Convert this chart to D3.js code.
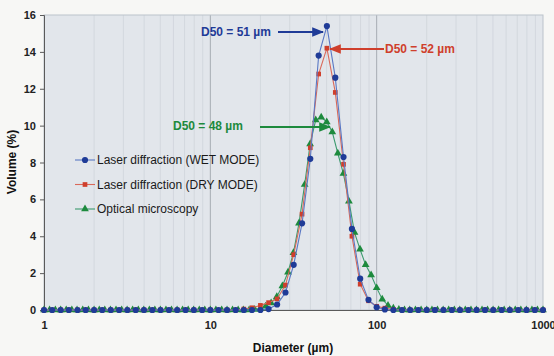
<!DOCTYPE html>
<html>
<head>
<meta charset="utf-8">
<script src="https://cdn.jsdelivr.net/npm/d3@7"></script>
<style>
body { margin: 0; background: #f7f7f5; }
text { font-family: "Liberation Sans", Arial, sans-serif; }
</style>
</head>
<body>
<svg id="chart" width="554" height="356"></svg>
<script>
// laser diffraction bins (um)
var laserDiam = [1.00,1.12,1.26,1.41,1.59,1.78,2.00,2.24,2.52,2.83,3.17,3.56,3.99,4.48,5.02,5.64,6.32,7.10,7.96,8.93,
  10.0,11.2,12.6,14.2,15.9,17.8,20.0,22.4,25.2,28.3,31.7,35.6,39.9,44.8,50.2,56.4,63.2,71.0,79.6,89.3,
  100,112,126,142,159,178,200,224,252,283,317,356,399,448,502,564,632,710,796,893,1000];

var wetVol = [0,0,0,0,0,0,0,0,0,0,0,0,0,0,0,0,0,0,0,0,
  0,0,0,0,0,0,0,0.05,0.3,0.95,2.45,4.7,8.2,13.8,15.4,12.6,8.3,4.4,1.7,0.55,
  0.15,0.03,0,0,0,0,0,0,0,0,0,0,0,0,0,0,0,0,0,0,0];

var dryVol = [0,0,0,0,0,0,0,0,0,0,0,0,0,0,0,0,0,0,0,0,
  0,0,0,0,0.05,0.12,0.25,0.4,0.6,1.35,3.0,5.2,8.8,12.8,14.2,11.8,7.9,4.0,1.4,0.5,
  0.2,0.1,0.03,0,0,0,0,0,0,0,0,0,0,0,0,0,0,0,0,0,0];

// optical microscopy classes (um)
var microDiam = [1.00,1.08,1.17,1.26,1.36,1.47,1.58,1.71,1.85,2.00,2.15,2.32,2.51,2.71,2.93,3.16,3.41,3.69,3.98,4.30,4.64,5.01,5.41,5.84,6.31,6.81,7.36,7.94,8.58,9.26,
  10.0,10.8,11.7,12.6,13.6,14.7,15.8,17.1,18.5,20.0,21.5,23.2,25.1,27.1,29.3,31.6,34.1,36.9,39.8,43.0,46.4,50.1,54.1,58.4,63.1,68.1,73.6,79.4,85.8,92.6,
  100,108,117,126,136,147,158,171,185,200,215,232,251,271,293,316,341,369,398,430,464,501,541,584,631,681,736,794,858,926,1000];

var microVol = [0,0,0,0,0,0,0,0,0,0,0,0,0,0,0,0,0,0,0,0,0,0,0,0,0,0,0,0,0,0,
  0,0,0,0,0,0,0,0,0.03,0.08,0.2,0.38,0.72,1.3,2.05,3.1,4.7,6.8,9.0,10.3,10.45,10.2,9.65,8.5,7.4,5.9,4.2,3.3,2.45,1.9,
  1.2,0.58,0.25,0.1,0.03,0,0,0,0,0,0,0,0,0,0,0,0,0,0,0,0,0,0,0,0,0,0,0,0,0,0];

var yTicks = [0,2,4,6,8,10,12,14,16];
var xTicks = [1,10,100,1000];
var legendLabels = ["Laser diffraction (WET MODE)", "Laser diffraction (DRY MODE)", "Optical microscopy"];
var d50Labels = ["D50 = 51 \u00b5m", "D50 = 52 \u00b5m", "D50 = 48 \u00b5m"];

var svg = d3.select("#chart");
var plotL = 44, plotR = 543, plotT = 15, plotB = 310;

var x = d3.scaleLog().domain([1, 1000]).range([plotL, plotR]);
var y = d3.scaleLinear().domain([0, 16]).range([plotB, plotT]);

var blue = "#1f3b97", red = "#cf3f2c", green = "#1d8a3d";

svg.append("rect")
  .attr("x", plotL).attr("y", plotT)
  .attr("width", plotR - plotL).attr("height", plotB - plotT)
  .attr("fill", "#e2e6eb");

// vertical grid
var minor = [];
[1, 10, 100].forEach(function(p) {
  for (var i = 2; i <= 9; i++) minor.push(i * p);
});
svg.append("g").selectAll("line")
  .data(minor)
  .enter().append("line")
  .attr("x1", function(d) { return x(d); }).attr("x2", function(d) { return x(d); })
  .attr("y1", plotT).attr("y2", plotB)
  .attr("stroke", "#d3d8de").attr("stroke-width", 1);

svg.append("g").selectAll("line")
  .data([10, 100])
  .enter().append("line")
  .attr("x1", function(d) { return x(d); }).attr("x2", function(d) { return x(d); })
  .attr("y1", plotT).attr("y2", plotB)
  .attr("stroke", "#a7acb3").attr("stroke-width", 1);

svg.append("rect")
  .attr("x", plotL).attr("y", plotT)
  .attr("width", plotR - plotL).attr("height", plotB - plotT)
  .attr("fill", "none").attr("stroke", "#bcc3cb");

// axes
var yAxis = svg.append("g")
  .attr("transform", "translate(" + plotL + ",0)")
  .call(d3.axisLeft(y).tickValues(yTicks).tickSize(4).tickPadding(4));
var xAxis = svg.append("g")
  .attr("transform", "translate(0," + plotB + ")")
  .call(d3.axisBottom(x).tickValues(xTicks).tickFormat(d3.format("d")).tickSize(0).tickPadding(11));
[yAxis, xAxis].forEach(function(a) {
  a.select(".domain").attr("stroke", "#5a5a5a");
  a.selectAll(".tick line").attr("stroke", "#5a5a5a");
  a.selectAll("text").attr("font-size", 11).attr("font-weight", "bold").attr("fill", "#222")
    .attr("font-family", "'Liberation Sans', Arial, sans-serif");
});

svg.append("text")
  .attr("x", 293).attr("y", 352)
  .attr("text-anchor", "middle")
  .attr("font-size", 12).attr("font-weight", "bold").attr("fill", "#111")
  .text("Diameter (\u00b5m)");

svg.append("text")
  .attr("transform", "translate(16,162) rotate(-90)")
  .attr("text-anchor", "middle")
  .attr("font-size", 12).attr("font-weight", "bold").attr("fill", "#111")
  .text("Volume (%)");

// series
var series = [
  { diam: microDiam, vol: microVol, color: green, line: "#3b9a6e", shape: d3.symbolTriangle, size: 26 },
  { diam: laserDiam, vol: dryVol, color: red, line: "#d9695a", shape: d3.symbolSquare, size: 22 },
  { diam: laserDiam, vol: wetVol, color: blue, line: "#5a78c4", shape: d3.symbolCircle, size: 30 }
];

var line = d3.line()
  .x(function(d) { return x(d[0]); })
  .y(function(d) { return y(d[1]); });

series.forEach(function(s) {
  var pts = s.diam.map(function(d, i) { return [d, s.vol[i]]; });
  svg.append("path")
    .datum(pts)
    .attr("d", line)
    .attr("fill", "none")
    .attr("stroke", s.line)
    .attr("stroke-width", 1.1);
  svg.append("g").selectAll("path")
    .data(pts)
    .enter().append("path")
    .attr("d", d3.symbol().type(s.shape).size(s.size))
    .attr("transform", function(d) { return "translate(" + x(d[0]) + "," + y(d[1]) + ")"; })
    .attr("fill", s.color);
});

// legend
var legendColors = [blue, red, green];
var legendLines = ["#5a78c4", "#d9695a", "#3b9a6e"];
var legendShapes = [d3.symbolCircle, d3.symbolSquare, d3.symbolTriangle];
var legendSizes = [30, 22, 26];
var legend = svg.append("g").selectAll("g")
  .data(legendLabels)
  .enter().append("g")
  .attr("transform", function(d, i) { return "translate(75," + (160 + i * 24.5) + ")"; });
legend.append("line")
  .attr("x1", 0).attr("x2", 20)
  .attr("stroke", function(d, i) { return legendLines[i]; })
  .attr("stroke-width", 1.1);
legend.append("path")
  .attr("d", function(d, i) { return d3.symbol().type(legendShapes[i]).size(legendSizes[i])(); })
  .attr("transform", "translate(10,0)")
  .attr("fill", function(d, i) { return legendColors[i]; });
legend.append("text")
  .attr("x", 22).attr("y", 4)
  .attr("font-size", 12).attr("fill", "#1a1a1a")
  .text(function(d) { return d; });

// D50 annotations
var defs = svg.append("defs");
[blue, red, green].forEach(function(c, i) {
  defs.append("marker")
    .attr("id", "arr" + i)
    .attr("viewBox", "0 0 10 10").attr("refX", 9).attr("refY", 5)
    .attr("markerWidth", 6).attr("markerHeight", 6)
    .attr("orient", "auto")
    .append("path").attr("d", "M0,1 L10,5 L0,9 z").attr("fill", c);
});

var notes = [
  { text: d50Labels[0], color: blue, tx: 201, ty: 36, x1: 278, x2: 323, yl: 32 },
  { text: d50Labels[1], color: red, tx: 385, ty: 53, x1: 384, x2: 330, yl: 49 },
  { text: d50Labels[2], color: green, tx: 173, ty: 130, x1: 260, x2: 330, yl: 127 }
];
notes.forEach(function(n, i) {
  svg.append("line")
    .attr("x1", n.x1).attr("x2", n.x2)
    .attr("y1", n.yl).attr("y2", n.yl)
    .attr("stroke", n.color).attr("stroke-width", 2)
    .attr("marker-end", "url(#arr" + i + ")");
  svg.append("text")
    .attr("x", n.tx).attr("y", n.ty)
    .attr("font-size", 12).attr("font-weight", "bold")
    .attr("fill", n.color)
    .text(n.text);
});
</script>
</body>
</html>
